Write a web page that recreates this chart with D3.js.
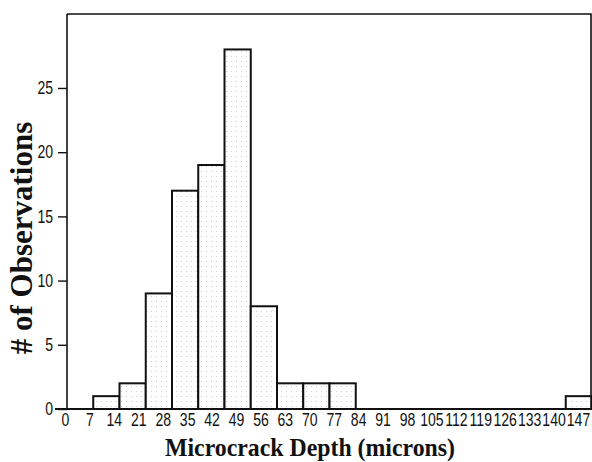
<!DOCTYPE html>
<html>
<head>
<meta charset="utf-8">
<script src="https://cdn.jsdelivr.net/npm/d3@7"></script>
<style>
  body { margin: 0; background: #fff; }
  svg { display: block; }
</style>
</head>
<body>
<div id="chart"></div>
<script>
"use strict";
// histogram counts, one per bar, left to right
const binCounts = [0, 1, 2, 9, 17, 19, 28, 8, 2, 2, 2, 0, 0, 0, 0, 0, 0, 0, 0, 1];
// labels printed under the x axis
const depthTicks = [0, 7, 14, 21, 28, 35, 42, 49, 56, 63, 70, 77, 84, 91, 98, 105, 112, 119, 126, 133, 140, 147];
const countTicks = [0, 5, 10, 15, 20, 25];
const xTitle = "Microcrack Depth (microns)";
const yTitle = "# of Observations";

const size = { width: 592, height: 462 };
const plot = { left: 67, right: 591, top: 14, bottom: 409 };

const svg = d3.select("#chart").append("svg")
    .attr("width", size.width)
    .attr("height", size.height);

// faint halftone dots from the scan
const defs = svg.append("defs");
const pat = defs.append("pattern")
    .attr("id", "dots")
    .attr("width", 5).attr("height", 5)
    .attr("patternUnits", "userSpaceOnUse");
pat.append("rect").attr("width", 5).attr("height", 5).attr("fill", "#fff");
pat.append("rect").attr("x", 1).attr("y", 1).attr("width", 1).attr("height", 1).attr("fill", "#cfcfcf");

const xBins = d3.scaleBand()
    .domain(d3.range(binCounts.length))
    .range([plot.left, plot.right + 1])
    .padding(0);

const xLabels = d3.scaleLinear()
    .domain([0, 147])
    .range([65, 578]);

const y = d3.scaleLinear()
    .domain([0, 30.76])
    .range([plot.bottom, plot.top]);

// bars
svg.selectAll(".bar")
    .data(binCounts)
    .enter()
    .append("rect")
    .attr("class", "bar")
    .attr("x", (d, i) => xBins(i))
    .attr("y", d => y(d))
    .attr("width", xBins.bandwidth())
    .attr("height", d => plot.bottom - y(d))
    .attr("fill", "url(#dots)")
    .attr("stroke", "#111")
    .attr("stroke-width", 2);

// frame: top and right
svg.append("path")
    .attr("d", `M${plot.left},${plot.top}H${plot.right}V${plot.bottom}`)
    .attr("fill", "none")
    .attr("stroke", "#111")
    .attr("stroke-width", 1.6);

// y axis
const yAxis = svg.append("g")
    .attr("transform", `translate(${plot.left},0)`)
    .call(d3.axisLeft(y).tickValues(countTicks).tickSize(9).tickPadding(4).tickSizeOuter(0));
yAxis.select(".domain")
    .attr("d", `M0,${plot.top}V${plot.bottom}`)
    .attr("stroke", "#111")
    .attr("stroke-width", 1.6);
yAxis.selectAll(".tick line").attr("stroke", "#111").attr("stroke-width", 1.4);
yAxis.selectAll(".tick text")
    .attr("font-family", "Liberation Sans, Arial, sans-serif")
    .attr("font-size", 18)
    .attr("fill", "#111")
    .attr("x", -14 / 0.78)
    .attr("transform", "scale(0.78,1)");

// x axis line
svg.append("line")
    .attr("x1", 55).attr("x2", plot.right)
    .attr("y1", plot.bottom).attr("y2", plot.bottom)
    .attr("stroke", "#111")
    .attr("stroke-width", 2);

// x tick labels
const xAxis = svg.append("g")
    .attr("transform", `translate(0,${plot.bottom})`)
    .call(d3.axisBottom(xLabels).tickValues(depthTicks).tickSize(0).tickPadding(4).tickFormat(d => d));
xAxis.select(".domain").remove();
xAxis.selectAll(".tick").each(function() {
    const t = d3.select(this);
    const tx = +t.attr("transform").match(/translate\(([-\d.]+)/)[1];
    t.attr("transform", `translate(${tx},0) scale(0.78,1)`);
});
xAxis.selectAll(".tick text")
    .attr("font-family", "Liberation Sans, Arial, sans-serif")
    .attr("font-size", 18)
    .attr("fill", "#111");

// axis titles
svg.append("text")
    .attr("x", 310)
    .attr("y", 456)
    .attr("text-anchor", "middle")
    .attr("font-family", "Liberation Serif, Times New Roman, serif")
    .attr("font-weight", "bold")
    .attr("font-size", 25)
    .attr("textLength", 290)
    .attr("lengthAdjust", "spacingAndGlyphs")
    .attr("fill", "#111")
    .text(xTitle);

svg.append("text")
    .attr("transform", "translate(32,238) rotate(-90)")
    .attr("text-anchor", "middle")
    .attr("font-family", "Liberation Serif, Times New Roman, serif")
    .attr("font-weight", "bold")
    .attr("font-size", 31)
    .attr("fill", "#111")
    .text(yTitle);
</script>
</body>
</html>
